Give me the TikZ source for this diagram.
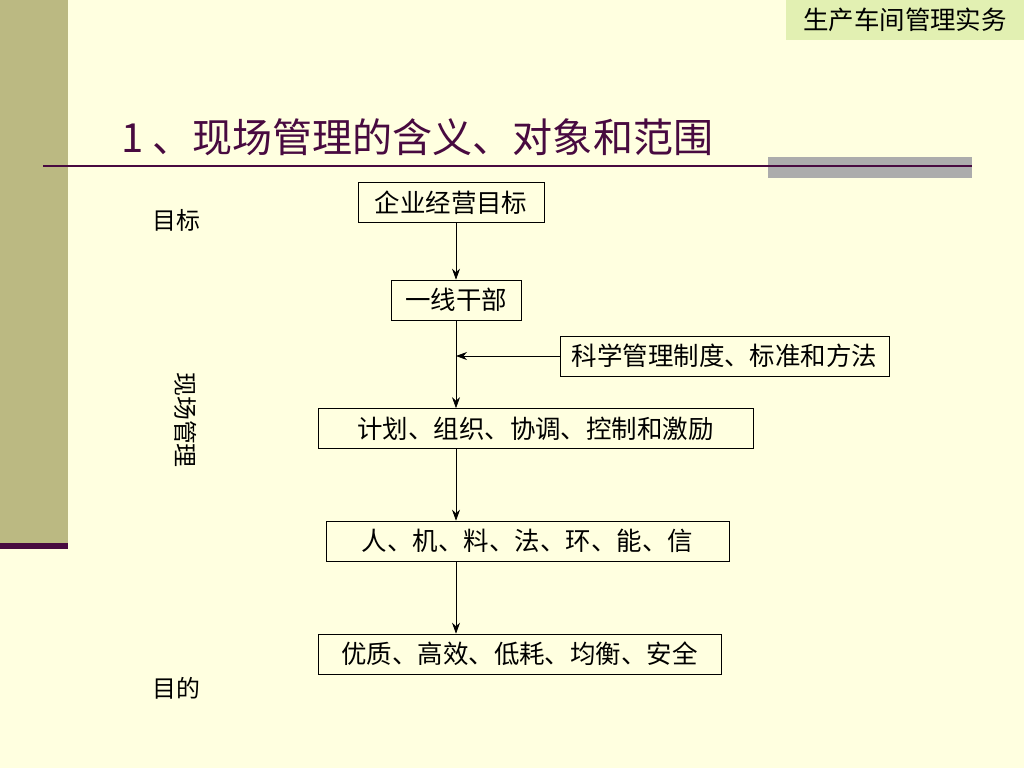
\documentclass[tikz,border=0pt]{standalone}
\usepackage{fontspec}
\usepackage{tikz}
\usetikzlibrary{positioning,arrows.meta}
\newfontfamily\cjk{Noto Sans CJK SC}
\definecolor{pagebg}{RGB}{255,255,224}
\definecolor{sidebar}{RGB}{187,185,130}
\definecolor{plum}{RGB}{72,10,64}
\definecolor{tabgreen}{RGB}{226,240,178}
\definecolor{rulegray}{RGB}{172,172,172}

\begin{document}
\begin{tikzpicture}[x=0.02cm,y=-0.02cm,
				box/.style={draw, thin, fill=pagebg, minimum height=0.8cm, inner sep=0pt, font=\cjk\fontsize{14.5pt}{16pt}\selectfont},
				side/.style={font=\cjk\fontsize{13.6pt}{15pt}\selectfont},
				flow/.style={-{Stealth[length=2.2mm,width=1.6mm]}, thin}
				]
				% page
				\fill[pagebg] (0,0) rectangle (1024,768);
				\useasboundingbox (0,0) rectangle (1024,768);
				\fill[sidebar] (0,0) rectangle (68,545);
				\fill[plum] (0,543) rectangle (68,549);
				\fill[tabgreen] (786,0) rectangle (1024,40);
				\node[side, font=\cjk\fontsize{14.5pt}{16pt}\selectfont] (tab) at (905,20) {生产车间管理实务};
				% title
				\node[anchor=west, text=plum, font=\cjk\fontsize{22.8pt}{26pt}\selectfont] (title) at (115,137) {1 、现场管理的含义、对象和范围};
				\fill[rulegray] (768,157) rectangle (972,178);
				\draw[plum, line width=1.2pt] (43,166) -- (972,166);
				% boxes
				\node[box, minimum width=3.72cm] (goal) at (451,202.5) {企业经营目标};
				\node[box, minimum width=2.6cm] (cadre) at (456,300) {一线干部};
				\node[box, minimum width=6.58cm] (rules) at (724.5,356) {科学管理制度、标准和方法};
				\node[box, minimum width=8.7cm] (plan) at (535.5,428.5) {计划、组织、协调、控制和激励};
				\node[box, minimum width=8.06cm] (res) at (527.5,541) {人、机、料、法、环、能、信};
				\node[box, minimum width=8.06cm] (aim) at (519.5,654) {优质、高效、低耗、均衡、安全};
				% side labels
				\node[side] (lgoal) at (176,220) {目标};
				\node[side, rotate=-90] (lsite) at (186,420) {现场管理};
				\node[side] (laim) at (176,688) {目的};
				% arrows
				\draw[flow] (goal.south -| cadre) -- (cadre.north);
				\draw[flow] (cadre.south) -- (plan.north -| cadre);
				\draw[flow] (rules.west) -- (rules.west -| cadre);
				\draw[flow] (plan.south -| cadre) -- (res.north -| cadre);
				\draw[flow] (res.south -| cadre) -- (aim.north -| cadre);
			\end{tikzpicture}
\end{document}
